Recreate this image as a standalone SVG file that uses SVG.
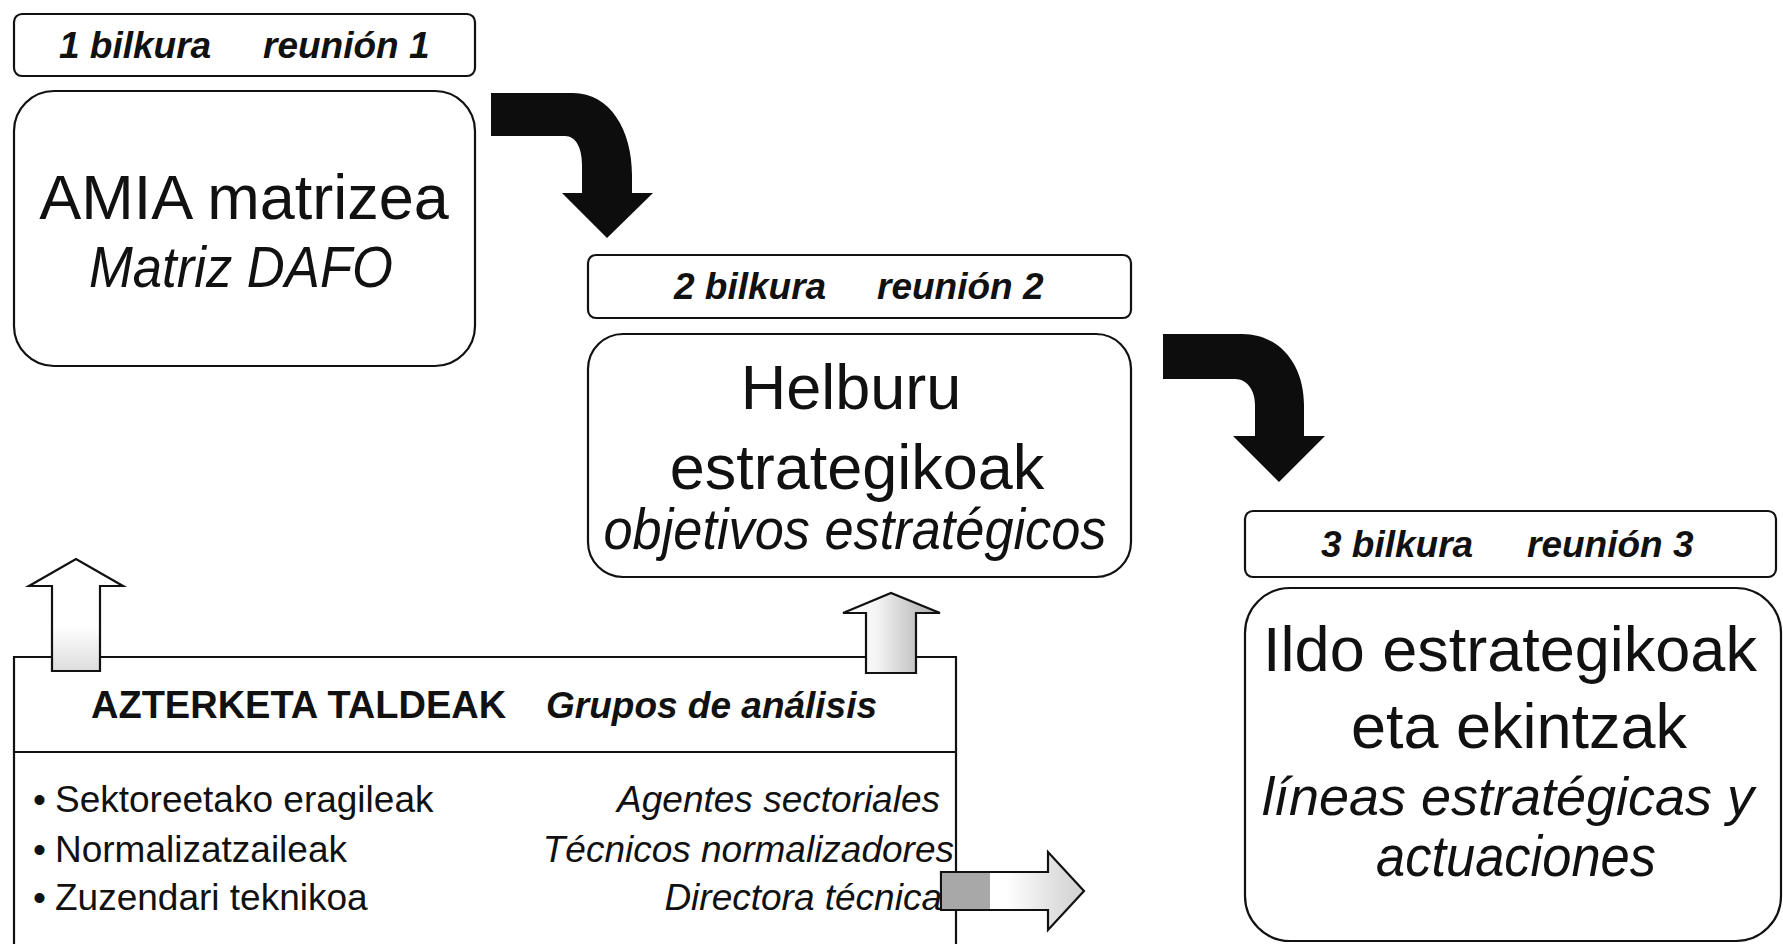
<svg xmlns="http://www.w3.org/2000/svg" width="1783" height="944" viewBox="0 0 1783 944">
  <style>
    .box { fill: #ffffff; stroke: #111111; stroke-width: 2.2; }
    .line { fill: none; stroke: #111111; stroke-width: 2.2; }
    .hdr { font-family: "Liberation Sans", Arial, sans-serif; font-weight: bold; font-style: italic; font-size: 37px; fill: #111111; }
    .big { font-family: "Liberation Sans", Arial, sans-serif; font-size: 63px; fill: #111111; text-anchor: middle; }
    .bigi { font-family: "Liberation Sans", Arial, sans-serif; font-style: italic; font-size: 58px; fill: #111111; text-anchor: middle; }
    .bigi2 { font-family: "Liberation Sans", Arial, sans-serif; font-style: italic; font-size: 54px; fill: #111111; text-anchor: middle; }
    .grp { font-family: "Liberation Sans", Arial, sans-serif; font-weight: bold; font-size: 38px; fill: #111111; }
    .grpi { font-family: "Liberation Sans", Arial, sans-serif; font-weight: bold; font-style: italic; font-size: 37px; fill: #111111; }
    .item { font-family: "Liberation Sans", Arial, sans-serif; font-size: 37px; fill: #111111; }
    .itemi { font-family: "Liberation Sans", Arial, sans-serif; font-style: italic; font-size: 37px; fill: #111111; }
    .solid { fill: #0d0d0d; stroke: none; }
    .hollow { stroke: #111111; stroke-width: 2.2; stroke-linejoin: miter; }
  </style>
  <defs>
    <linearGradient id="gA" x1="0" y1="0" x2="0" y2="1">
      <stop offset="0" stop-color="#ffffff"/>
      <stop offset="0.6" stop-color="#ffffff"/>
      <stop offset="1" stop-color="#dcdcdc"/>
    </linearGradient>
    <linearGradient id="gB" x1="0" y1="0" x2="1" y2="0">
      <stop offset="0" stop-color="#ffffff"/>
      <stop offset="0.35" stop-color="#f4f4f4"/>
      <stop offset="0.75" stop-color="#c4c4c4"/>
      <stop offset="1" stop-color="#b0b0b0"/>
    </linearGradient>
    <linearGradient id="gC" x1="0" y1="0" x2="1" y2="0">
      <stop offset="0" stop-color="#ffffff"/>
      <stop offset="0.45" stop-color="#ffffff"/>
      <stop offset="0.75" stop-color="#e4e4e4"/>
      <stop offset="1" stop-color="#d0d0d0"/>
    </linearGradient>
  </defs>
  <rect x="0" y="0" width="1783" height="944" fill="#ffffff"/>

  <g id="node-header1">
    <rect class="box" x="14" y="14" width="461" height="62" rx="8"/>
    <text class="hdr" x="59" y="58">1 bilkura</text>
    <text class="hdr" x="263" y="58">reunión 1</text>
  </g>
  <g id="node-amia">
    <rect class="box" x="14" y="91" width="461" height="275" rx="40"/>
    <text class="big" x="244" y="219">AMIA matrizea</text>
    <text class="bigi" x="241" y="287" textLength="304" lengthAdjust="spacingAndGlyphs">Matriz DAFO</text>
  </g>

  <g id="node-header2">
    <rect class="box" x="588" y="255" width="543" height="63" rx="8"/>
    <text class="hdr" x="674" y="299">2 bilkura</text>
    <text class="hdr" x="877" y="299">reunión 2</text>
  </g>
  <g id="node-helburu">
    <rect class="box" x="588" y="334" width="543" height="243" rx="35"/>
    <text class="big" x="851" y="409">Helburu</text>
    <text class="big" x="857" y="489">estrategikoak</text>
    <text class="bigi" x="855" y="549" textLength="503" lengthAdjust="spacingAndGlyphs">objetivos estratégicos</text>
  </g>

  <g id="node-header3">
    <rect class="box" x="1245" y="511" width="531" height="66" rx="8"/>
    <text class="hdr" x="1321" y="557">3 bilkura</text>
    <text class="hdr" x="1527" y="557">reunión 3</text>
  </g>
  <g id="node-ildo">
    <rect class="box" x="1245" y="588" width="536" height="353" rx="45"/>
    <text class="big" x="1510" y="671">Ildo estrategikoak</text>
    <text class="big" x="1519" y="748">eta ekintzak</text>
    <text class="bigi2" x="1508" y="815">líneas estratégicas y</text>
    <text class="bigi" x="1516" y="876" textLength="280" lengthAdjust="spacingAndGlyphs">actuaciones</text>
  </g>

  <g id="node-azterketa">
    <path class="line" d="M14,946 L14,657 L956,657 L956,946"/>
    <line class="line" x1="14" y1="752" x2="956" y2="752"/>
    <text class="grp" x="91" y="718">AZTERKETA TALDEAK</text>
    <text class="grpi" x="546" y="718">Grupos de análisis</text>
    <text class="item" x="33" y="812">•</text>
    <text class="item" x="55" y="812">Sektoreetako eragileak</text>
    <text class="item" x="33" y="862">•</text>
    <text class="item" x="55" y="862">Normalizatzaileak</text>
    <text class="item" x="33" y="910">•</text>
    <text class="item" x="55" y="910">Zuzendari teknikoa</text>
    <text class="itemi" x="940" y="812" text-anchor="end">Agentes sectoriales</text>
    <text class="itemi" x="954" y="862" text-anchor="end">Técnicos normalizadores</text>
    <text class="itemi" x="942" y="910" text-anchor="end">Directora técnica</text>
  </g>

  <g id="connectors">
    <path class="solid" d="M491,93 L573,93 C610,93 632,130 632,175 L632,193 L653,193 L607,238 L562,193 L582,193 L582,165 C582,148 576,136 565,136 L491,136 Z"/>
    <path class="solid" d="M1163,334 L1242,334 C1280,334 1304,365 1304,405 L1304,436 L1325,436 L1279,482 L1233,436 L1255,436 L1255,405 C1255,390 1247,379 1235,379 L1163,379 Z"/>
    <path class="hollow" fill="url(#gA)" d="M52,671 L52,586 L29,586 L76,559 L123,586 L100,586 L100,671 Z"/>
    <path class="hollow" fill="url(#gB)" d="M866,673 L866,613 L843,613 L891,593 L940,613 L916,613 L916,673 Z"/>
    <path class="hollow" fill="url(#gC)" d="M941,872 L1048,872 L1048,852 L1084,891 L1048,930 L1048,910 L941,910 Z"/>
    <rect x="942" y="873" width="48" height="36" fill="#a8a8a8"/>
  </g>
</svg>
